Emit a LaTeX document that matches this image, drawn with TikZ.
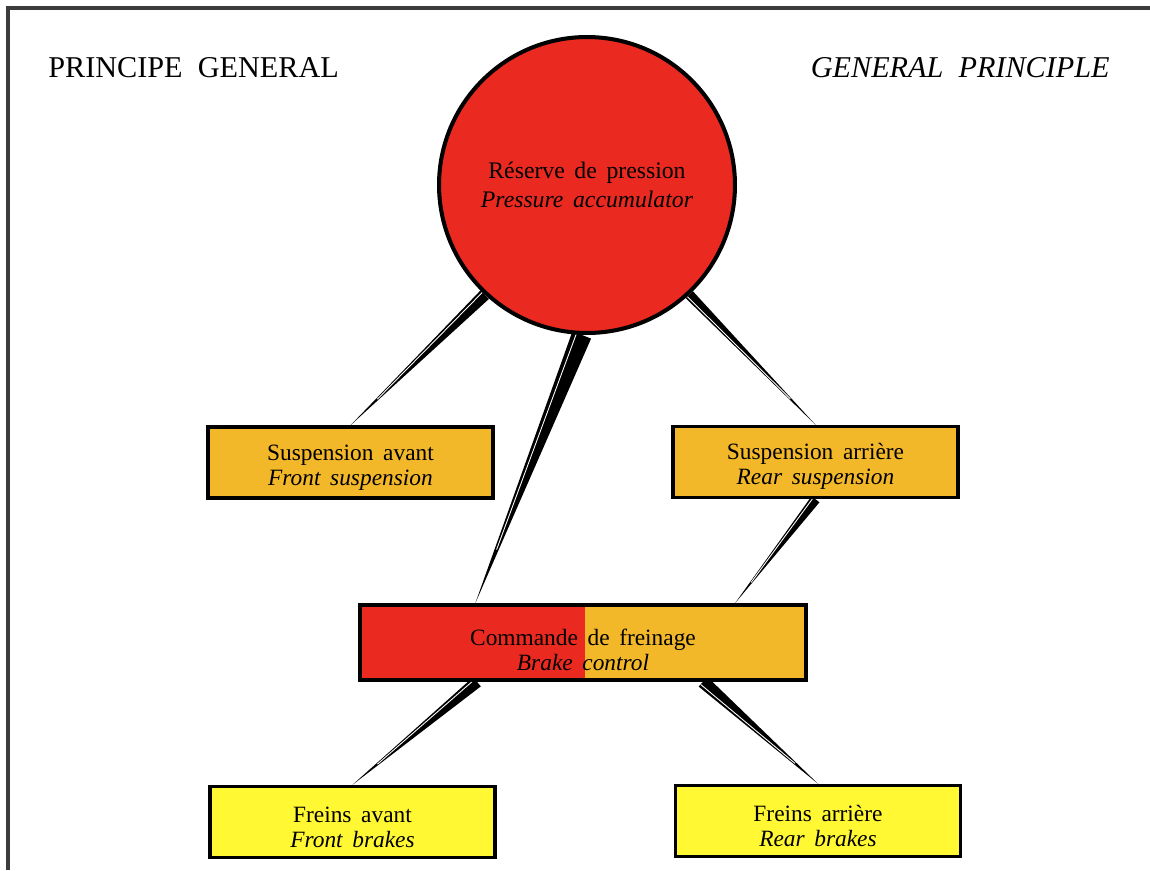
\documentclass[tikz,border=0pt]{standalone}
\usepackage{fontspec}
\setmainfont{Liberation Serif}
\usetikzlibrary{positioning}
\usetikzlibrary{calc}
\usetikzlibrary{backgrounds}
\definecolor{accred}{RGB}{234,42,32}
\definecolor{susporange}{RGB}{242,184,42}
\definecolor{brakeyellow}{RGB}{255,248,50}
\definecolor{framegray}{RGB}{60,60,60}
\newcommand{\widespace}{\spaceskip=5.5pt plus 1pt\relax}
\tikzstyle{tank}=[circle,fill=accred,draw,line width=2.3pt,minimum size=5.92cm,inner sep=0pt,align=center,font=\fontsize{13.5}{16.5}\selectfont\widespace]
\tikzstyle{unit}=[rectangle,draw,line width=2pt,minimum width=5.7cm,minimum height=1.42cm,inner sep=0pt,align=center,font=\fontsize{13.3}{14.2}\selectfont\widespace]
\tikzstyle{heading}=[font=\fontsize{17.2}{20}\selectfont,inner sep=0pt]
\tikzstyle{pipe}=[fill=black]
\tikzstyle{pipestripe}=[draw=white,line width=0.5pt]

% tapered connector: wide end, pointed end, half width
\newcommand{\taper}[3]{%
  \path[pipe] ($(#1)!#3!90:(#2)$) -- (#2) -- ($(#1)!#3!-90:(#2)$) -- cycle;
  \path[pipestripe] ($(#1)!0.55*#3!-90:(#2)$) -- ($(#1)!0.8!(#2)$);
}

\begin{document}
\begin{tikzpicture}[x=0.02cm,y=-0.02cm]

    % page and frame
    \useasboundingbox (0,0) rectangle (1150,870);
    \draw[framegray, line width=2pt] (8,870) -- (8,8) -- (1150,8);

    \node[heading, anchor=base west] (titlefr) at (48,77) {PRINCIPE\ \ GENERAL};
    \node[heading, anchor=base east] (titleen) at (1110,77) {\textit{GENERAL\ \ PRINCIPLE}};

    % pressure accumulator
    \node[tank] (acc) at (587,185) {R\'eserve de pression\\ \textit{Pressure accumulator}};

    % the boxes
    \foreach \pos/\name/\col/\label in {{(350.5,462.5)/fsus/susporange/{Suspension avant\\ \textit{Front suspension}}}, {(815.5,462)/rsus/susporange/{Suspension arri\`ere\\ \textit{Rear suspension}}}, {(352.5,822)/fbr/brakeyellow/{Freins avant\\ \textit{Front brakes}}}, {(818,821)/rbr/brakeyellow/{Freins arri\`ere\\ \textit{Rear brakes}}}}
        \node[unit, fill=\col] (\name) at \pos {\rule{0pt}{14.5pt}\label};

    \node[unit, fill=susporange, minimum width=8.92cm, minimum height=1.5cm,
          path picture={\fill[accred] (path picture bounding box.south west) rectangle ([xshift=0.04cm]path picture bounding box.north);}]
          (brk) at (583,642.5) {\rule{0pt}{17.5pt}Commande de freinage\\ \textit{Brake control}};

    % free ends of the connectors
    \coordinate (accbot) at (acc.268);
    \coordinate (brkin) at ($(brk.north west)+(117,0)$);
    \coordinate (brkin2) at ($(brk.north)+(152,0)$);
    \coordinate (brkoutl) at ($(brk.south)+(-106,0)$);
    \coordinate (brkoutr) at ($(brk.south)+(120,0)$);

    % connectors, drawn behind the nodes
    \begin{pgfonlayer}{background}
    \fill[white] (0,0) rectangle (1150,870);
    \foreach \source/\dest/\w in {acc.227.6/fsus.north/0.12cm, accbot/brkin/0.2cm, acc.313.6/rsus.north/0.1cm, rsus.south/brkin2/0.1cm, brkoutl/fbr.north/0.12cm, brkoutr/rbr.north/0.13cm}
        {\taper{\source}{\dest}{\w}}
    \end{pgfonlayer}

\end{tikzpicture}
\end{document}
